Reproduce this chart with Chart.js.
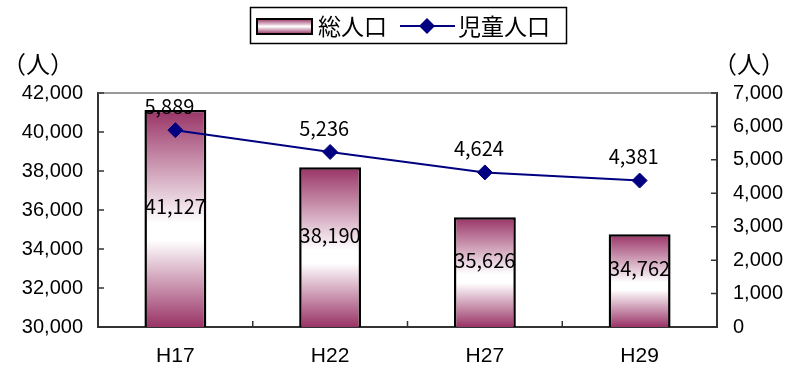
<!DOCTYPE html>
<html>
<head>
<meta charset="utf-8">
<script src="https://cdn.jsdelivr.net/npm/chart.js@4.4.1/dist/chart.umd.min.js"></script>
<style>
  body { margin: 0; background: #fff; }
</style>
</head>
<body>
<canvas id="mycanvas1" width="792" height="370"></canvas>
<script>
// 年度別 総人口・児童人口
var years = ['H17', 'H22', 'H27', 'H29'];
var totalPop = [41127, 38190, 35626, 34762];
var childPop = [5889, 5236, 4624, 4381];
var seriesNames = ['総人口', '児童人口'];
var unitLabel = '（人）';

var PLUM = '#993366';
var NAVY = '#000080';
var NUM_FONT = '"Liberation Sans", Arial, sans-serif';
var JP_FONT = '"Noto Sans CJK JP", sans-serif';

function fmt(v) {
  return v.toLocaleString('en-US');
}

// バーごとに上下が濃く中央が白いグラデーション
function barGradient(ctx) {
  var chart = ctx.chart;
  if (!chart.chartArea || ctx.type !== 'data') return PLUM;
  var y = chart.scales.y;
  var top = y.getPixelForValue(ctx.raw);
  var bottom = y.getPixelForValue(y.min);
  var g = chart.ctx.createLinearGradient(0, top, 0, bottom);
  g.addColorStop(0, PLUM);
  g.addColorStop(0.52, '#ffffff');
  g.addColorStop(0.6, '#ffffff');
  g.addColorStop(1, PLUM);
  return g;
}

// 目盛り線(内向き)、上枠、単位、データラベル、凡例
var decor = {
  id: 'decor',
  beforeDatasetsDraw: function(chart) {
    var c = chart.ctx, a = chart.chartArea;
    c.save();
    c.strokeStyle = '#999';
    c.lineWidth = 2;
    c.beginPath();
    c.moveTo(a.left, a.top);
    c.lineTo(a.right, a.top);
    c.stroke();

    c.strokeStyle = '#333';
    c.lineWidth = 1.5;
    c.beginPath();
    chart.scales.y.ticks.forEach(function(t, i) {
      var py = chart.scales.y.getPixelForTick(i);
      c.moveTo(a.left, py);
      c.lineTo(a.left + 6, py);
    });
    chart.scales.y1.ticks.forEach(function(t, i) {
      var py = chart.scales.y1.getPixelForTick(i);
      c.moveTo(a.right, py);
      c.lineTo(a.right - 6, py);
    });
    var xs = chart.scales.x;
    for (var i = 1; i < years.length; i++) {
      var px = (xs.getPixelForTick(i - 1) + xs.getPixelForTick(i)) / 2;
      c.moveTo(px, a.bottom);
      c.lineTo(px, a.bottom - 6);
    }
    c.stroke();
    c.restore();
  },
  afterDraw: function(chart) {
    var c = chart.ctx;
    var xs = chart.scales.x, ys = chart.scales.y, ys1 = chart.scales.y1;
    c.save();
    c.fillStyle = '#000';
    c.textAlign = 'center';
    c.textBaseline = 'middle';

    // 単位
    c.font = '24px ' + JP_FONT;
    c.fillText(unitLabel, 38, 64);
    c.fillText(unitLabel, 749, 64);

    // データラベル
    c.font = '20px ' + JP_FONT;
    totalPop.forEach(function(v, i) {
      var top = ys.getPixelForValue(v);
      var base = ys.getPixelForValue(ys.min);
      c.fillText(fmt(v), xs.getPixelForValue(i), (top + base) / 2 - 12);
    });
    childPop.forEach(function(v, i) {
      c.fillText(fmt(v), xs.getPixelForValue(i) - 6, ys1.getPixelForValue(v) - 24);
    });

    // 凡例
    c.strokeStyle = '#000';
    c.lineWidth = 1.5;
    c.strokeRect(250.5, 7.5, 316, 36);

    var g = c.createLinearGradient(0, 19, 0, 34);
    g.addColorStop(0, PLUM);
    g.addColorStop(0.5, '#ffffff');
    g.addColorStop(1, PLUM);
    c.fillStyle = g;
    c.fillRect(257, 19, 55, 15);
    c.lineWidth = 2;
    c.strokeRect(257, 19, 55, 15);

    c.fillStyle = '#000';
    c.textAlign = 'left';
    c.font = '23px ' + JP_FONT;
    c.fillText(seriesNames[0], 318, 26);
    c.fillText(seriesNames[1], 458, 26);

    c.strokeStyle = NAVY;
    c.lineWidth = 2;
    c.beginPath();
    c.moveTo(400, 26);
    c.lineTo(455, 26);
    c.stroke();
    c.fillStyle = NAVY;
    c.beginPath();
    c.moveTo(427, 18);
    c.lineTo(435, 26);
    c.lineTo(427, 34);
    c.lineTo(419, 26);
    c.closePath();
    c.fill();
    c.restore();
  }
};

var chartdata = {
  labels: years,
  datasets: [
    {
      type: 'line',
      label: seriesNames[1],
      data: childPop,
      yAxisID: 'y1',
      borderColor: NAVY,
      borderWidth: 2,
      pointStyle: 'rectRot',
      pointRadius: 7.5,
      pointBackgroundColor: NAVY,
      pointBorderColor: NAVY,
      pointBorderWidth: 1,
      order: 0
    },
    {
      type: 'bar',
      label: seriesNames[0],
      data: totalPop,
      yAxisID: 'y',
      backgroundColor: barGradient,
      borderColor: '#000',
      borderWidth: 2.5,
      borderSkipped: false,
      barPercentage: 0.4,
      categoryPercentage: 1.0,
      order: 1
    }
  ]
};

var ctx = document.getElementById('mycanvas1');

var comboChart = new Chart(ctx, {
  type: 'bar',
  data: chartdata,
  plugins: [decor],
  options: {
    responsive: false,
    animation: false,
    layout: { padding: { top: 93, left: 0, right: 0, bottom: 0 } },
    plugins: {
      legend: { display: false },
      tooltip: { enabled: false }
    },
    scales: {
      x: {
        offset: true,
        grid: { display: false, drawTicks: false },
        border: { display: true, color: '#333', width: 2 },
        ticks: { color: '#000', padding: 17, font: { family: NUM_FONT, size: 21 } },
        afterFit: function(s) { s.height = 43; }
      },
      y: {
        position: 'left',
        min: 30000,
        max: 42000,
        grid: { drawOnChartArea: false, drawTicks: false },
        border: { display: true, color: '#333', width: 2 },
        ticks: {
          stepSize: 2000,
          color: '#000',
          padding: 15,
          font: { family: NUM_FONT, size: 20 },
          callback: function(v) { return fmt(v); }
        },
        afterFit: function(s) { s.width = 98; }
      },
      y1: {
        position: 'right',
        min: 0,
        max: 7000,
        grid: { drawOnChartArea: false, drawTicks: false },
        border: { display: true, color: '#333', width: 2 },
        ticks: {
          stepSize: 1000,
          color: '#000',
          padding: 16,
          font: { family: NUM_FONT, size: 20 },
          callback: function(v) { return fmt(v); }
        },
        afterFit: function(s) { s.width = 75; }
      }
    }
  }
});
</script>
</body>
</html>
